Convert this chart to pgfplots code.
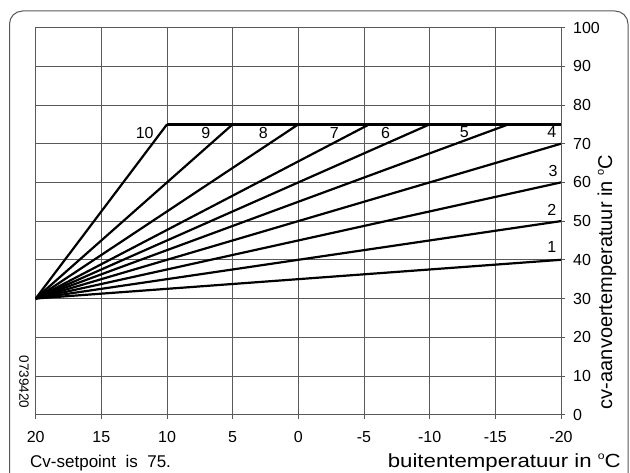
\documentclass[border=0pt]{standalone}
\usepackage{pgfplots}
\pgfplotsset{compat=1.18}
\usepackage{fontspec}
\setmainfont{Liberation Sans}
\newcommand{\degsup}{\raisebox{0.42em}{\scalebox{0.55}{o}}}
\begin{document}
\begin{tikzpicture}[x=1pt,y=1pt]
\useasboundingbox (0,0) rectangle (630,472);
\draw[rounded corners=13pt, line width=1pt, black!65] (9.5,-30) -- (9.5,461) -- (628,461) -- (628,-30);
\begin{axis}[
  at={(35.7pt,57.4pt)}, anchor=south west,
  scale only axis, width=525.3pt, height=387pt,
  x dir=reverse,
  xmin=-20, xmax=20, ymin=0, ymax=100,
  xtick={-20,-15,...,20}, ytick={0,10,...,100},
  xtick pos=bottom, ytick pos=right, yticklabel pos=right,
  tick align=outside, major tick length=4.5pt,
  grid=major, major grid style={black!65, line width=0.8pt},
  axis line style={black!65, line width=0.8pt},
  tick style={black!65, line width=0.8pt},
  /pgf/number format/assume math mode=true,
  tick label style={font=\fontsize{16}{16}\selectfont},
  xticklabel style={anchor=north, inner sep=0pt, yshift=-12.5pt},
  yticklabel style={anchor=west, inner sep=0pt, xshift=7.5pt},
  clip=true,
]
\addplot[black, line width=2.2pt] coordinates {(20,30) (-20,40)};
\addplot[black, line width=2.2pt] coordinates {(20,30) (-20,50)};
\addplot[black, line width=2.2pt] coordinates {(20,30) (-20,60)};
\addplot[black, line width=2.2pt] coordinates {(20,30) (-20,70)};
\addplot[black, line width=2.2pt] coordinates {(20,30) (-16,75)};
\addplot[black, line width=2.2pt] coordinates {(20,30) (-10,75)};
\addplot[black, line width=2.2pt] coordinates {(20,30) (-5.4,75)};
\addplot[black, line width=2.2pt] coordinates {(20,30) (0,75)};
\addplot[black, line width=2.2pt] coordinates {(20,30) (5,75)};
\addplot[black, line width=2.2pt] coordinates {(20,30) (10,75)};
\addplot[black, line width=2.6pt] coordinates {(10,75) (-20,75)};
\begin{scope}[every node/.style={font=\fontsize{16}{16}\selectfont, inner sep=0pt}]
\node at (axis cs:11.7,72.8) {10};
\node at (axis cs:7.05,72.8) {9};
\node at (axis cs:2.67,72.8) {8};
\node at (axis cs:-2.74,72.8) {7};
\node at (axis cs:-6.65,72.8) {6};
\node at (axis cs:-12.64,72.9) {5};
\node at (axis cs:-19.3,73) {4};
\node at (axis cs:-19.4,62.9) {3};
\node at (axis cs:-19.3,52.9) {2};
\node at (axis cs:-19.3,43.4) {1};
\end{scope}
\end{axis}
\node[rotate=90, font=\fontsize{20}{20}\selectfont, inner sep=0pt] at (607,190) {cv-aanvoertemperatuur in \degsup C};
\node[rotate=-90, font=\fontsize{13.5}{13.5}\selectfont, inner sep=0pt] at (24,90) {0739420};
\node[anchor=base west, font=\fontsize{17}{17}\selectfont, inner sep=0pt] at (30,5) {Cv-setpoint\ \ is\ \ 75.};
\node[anchor=base east, font=\fontsize{19}{19}\selectfont, inner sep=0pt, xscale=1.17] at (621,5) {buitentemperatuur in \degsup C};
\end{tikzpicture}
\end{document}
